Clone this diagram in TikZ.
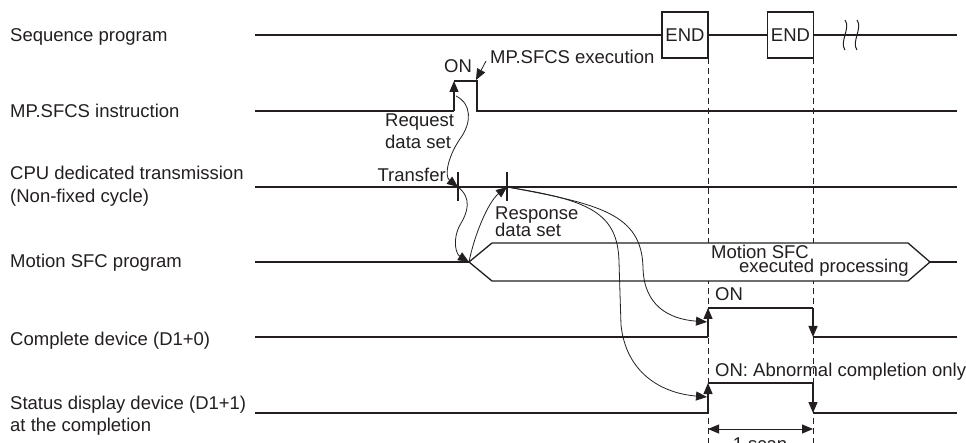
\documentclass[tikz,border=0pt]{standalone}
\usepackage{fontspec}
\setmainfont{Liberation Sans}
\usetikzlibrary{arrows.meta}
\definecolor{ink}{HTML}{231F20}
\begin{document}
\begin{tikzpicture}[x=1pt,y=-1pt,line join=miter,
  sig/.style={draw=ink,line width=1.3pt},
  thinline/.style={draw=ink,line width=0.8pt},
  tipend/.style={-{Triangle[length=11pt,width=9pt]}},
  bothtips/.style={{Triangle[length=11pt,width=9pt]}-{Triangle[length=11pt,width=9pt]}},
  lbl/.style={font=\fontsize{18.5}{22}\selectfont,text=ink,inner sep=0pt},
  endbox/.style={draw=ink,line width=1.3pt,fill=white,minimum width=46pt,minimum height=46pt,inner sep=0pt,font=\fontsize{18.5}{22}\selectfont,text=ink},
  dashline/.style={draw=ink,line width=0.8pt,dash pattern=on 6pt off 4pt}
]
\useasboundingbox (0,0) rectangle (966,443);

% ---- left labels
\node[lbl,anchor=base west] (lseq) at (10,42) {Sequence program};
\node[lbl,anchor=base west] (lmp) at (10,118) {MP.SFCS instruction};
\node[lbl,anchor=base west] (lcpu1) at (10,180) {CPU dedicated transmission};
\node[lbl,anchor=base west] (lcpu2) at (10,203) {(Non-fixed cycle)};
\node[lbl,anchor=base west] (lsfc) at (10,268) {Motion SFC program};
\node[lbl,anchor=base west] (lcomp) at (10,345) {Complete device (D1+0)};
\node[lbl,anchor=base west] (lstat1) at (10,409) {Status display device (D1+1)};
\node[lbl,anchor=base west] (lstat2) at (10,431) {at the completion};

% ---- key coordinates
\coordinate (s0) at (255,35);   \coordinate (s9) at (957,35);
\coordinate (m0) at (255,111);  \coordinate (m9) at (957,111);
\coordinate (mr) at (454,111);  \coordinate (mrt) at (454,81);
\coordinate (mft) at (477,81);  \coordinate (mf) at (477,111);
\coordinate (c0) at (255,187);  \coordinate (c9) at (957,187);
\coordinate (t1) at (458,187);  \coordinate (t2) at (507,187);
\coordinate (p0) at (255,262);  \coordinate (p9) at (957,262);
\coordinate (hl) at (469,262);  \coordinate (hr) at (930,262);
\coordinate (k0) at (255,337);  \coordinate (k9) at (957,337);
\coordinate (kr) at (708,337);  \coordinate (krt) at (708,308);
\coordinate (kft) at (813,308); \coordinate (kf) at (813,337);
\coordinate (d0) at (255,413);  \coordinate (d9) at (957,413);
\coordinate (dr) at (708,413);  \coordinate (drt) at (708,383);
\coordinate (dft) at (813,383); \coordinate (df) at (813,413);

% ---- dashed scan lines
\draw[dashline] (708,58) -- (708,443);
\draw[dashline] (813,58) -- (813,443);

% ---- sequence program
\node[endbox] (end1) at (685,35) {END};
\node[endbox] (end2) at (790.5,35) {END};
\draw[sig] (s0) -- (end1.west);
\draw[sig] (end1.east) -- (end2.west);
\draw[sig] (end2.east) -- (s9);
\draw[thinline,line width=1pt] (845,20) .. controls (851,28) and (839,42) .. (845,50);
\draw[thinline,line width=1pt] (857,20) .. controls (863,28) and (851,42) .. (857,50);

% ---- MP.SFCS instruction
\draw[sig] (m0) -- (mr);
\draw[sig,tipend] (mr) -- (mrt);
\draw[sig] (mrt) -- (mft) -- (mf) -- (m9);
\node[lbl,anchor=base west] (on1) at (444,73) {ON};
\node[lbl,anchor=base west] (mpexec) at (490,64) {MP.SFCS execution};
\coordinate (mpa) at (486,61);
\draw[thinline,tipend] (mpa) -- (476,80);

% ---- CPU transmission
\draw[sig] (c0) -- (c9);
\draw[sig] (458,172) -- (458,201);
\draw[sig] (507,172) -- (507,201);
\node[lbl,anchor=base east] (transfer) at (446,182) {Transfer};
\node[lbl,anchor=base west] (req1) at (385,127) {Request};
\node[lbl,anchor=base west] (req2) at (385,149) {data set};
\node[lbl,anchor=base west] (resp1) at (495,220) {Response};
\node[lbl,anchor=base west] (resp2) at (495,237) {data set};

% ---- Motion SFC program
\draw[sig] (p0) -- (hl);
\draw[sig,fill=white] (hl) -- (492,243) -- (908,243) -- (hr) -- (908,281) -- (492,281) -- cycle;
\draw[sig] (hr) -- (p9);
\node[lbl,anchor=base west] (msfc1) at (711,259) {Motion SFC};
\node[lbl,anchor=base east] (msfc2) at (909,273) {executed processing};

% ---- complete device
\draw[sig] (k0) -- (kr);
\draw[sig,tipend] (kr) -- (krt);
\draw[sig] (krt) -- (kft);
\draw[sig,tipend] (kft) -- (kf);
\draw[sig] (kf) -- (k9);
\node[lbl,anchor=base west] (on2) at (715,301) {ON};

% ---- status display device
\draw[sig] (d0) -- (dr);
\draw[sig,tipend] (dr) -- (drt);
\draw[sig] (drt) -- (dft);
\draw[sig,tipend] (dft) -- (df);
\draw[sig] (df) -- (d9);
\node[lbl,anchor=base west] (on3) at (715,377) {ON: Abnormal completion only};

% ---- 1 scan
\draw[thinline,line width=1pt,bothtips] (708,429) -- (813,429);
\node[lbl,anchor=base] (scan) at (760,450) {1 scan};

% ---- curved connectors
\draw[thinline,tipend] (456,96) .. controls (472,104) and (471,122) .. (462,136)
   .. controls (448,155) and (444,176) .. (t1);
\draw[thinline,tipend] (t1) .. controls (472,198) and (468,212) .. (460,225)
   .. controls (452,240) and (456,254) .. (hl);
\draw[thinline,tipend] (hl) .. controls (474,236) and (488,202) .. (t2);
\draw[thinline,tipend] (t2) .. controls (600,204) and (642,214) .. (643,268)
   .. controls (644,305) and (668,319) .. (707,322);
\draw[thinline,tipend] (t2) .. controls (588,200) and (618,212) .. (619,262)
   -- (621,325) .. controls (626,372) and (660,393) .. (707,397);
\end{tikzpicture}
\end{document}
